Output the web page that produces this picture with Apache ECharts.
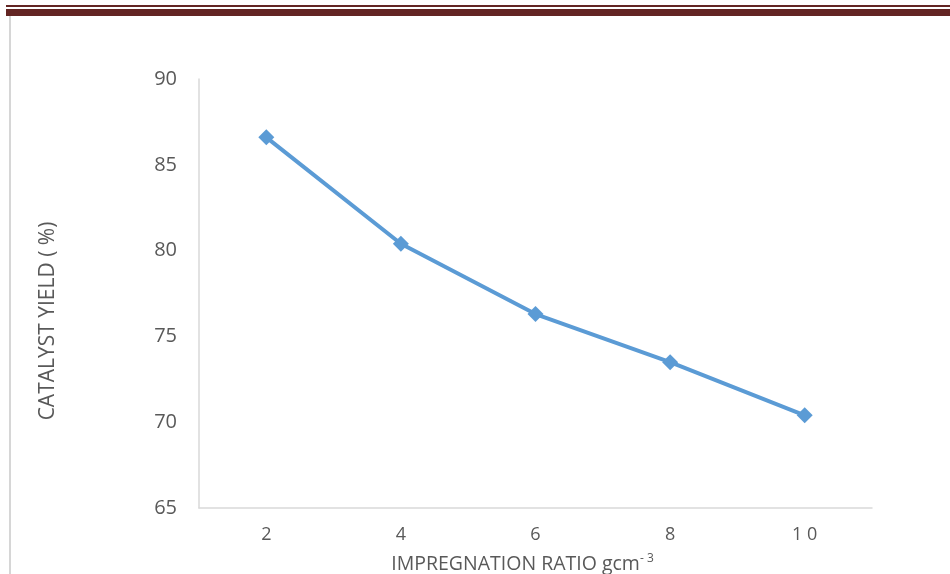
<!DOCTYPE html>
<html>
<head>
<meta charset="utf-8">
<script src="https://cdn.jsdelivr.net/npm/echarts@6/dist/echarts.min.js"></script>
<style>
html,body{margin:0;padding:0;background:#fff;}
#chart{width:950px;height:574px;}
</style>
</head>
<body>
<div id="chart"></div>
<script>
var categories = ['2', '4', '6', '8', '1 0'];
var yieldValues = [86.6, 80.4, 76.3, 73.5, 70.4];
var yTicks = [65, 70, 75, 80, 85, 90];

var chart = echarts.init(document.getElementById('chart'), null, {renderer: 'canvas'});
var font = '"Open Sans", "Noto Sans", sans-serif';
chart.setOption({
  animation: false,
  backgroundColor: '#ffffff',
  graphic: [
    {type: 'rect', shape: {x: 6, y: 5, width: 944, height: 2}, style: {fill: '#632523'}, silent: true},
    {type: 'rect', shape: {x: 6, y: 9, width: 944, height: 7}, style: {fill: '#632523'}, silent: true},
    {type: 'rect', shape: {x: 9, y: 16, width: 2, height: 558}, style: {fill: '#d6d6d6'}, silent: true}
  ],
  grid: {left: 199, right: 78, top: 79, bottom: 66, containLabel: false, outerBoundsMode: 'none'},
  xAxis: {
    type: 'category',
    data: categories,
    boundaryGap: true,
    axisLine: {show: true, lineStyle: {color: '#d9d9d9', width: 1.5}},
    axisTick: {show: false},
    splitLine: {show: false},
    axisLabel: {color: '#595959', fontSize: 18, fontFamily: font, margin: 18},
    name: 'IMPREGNATION RATIO gcm{sup|- 3}',
    nameLocation: 'middle',
    nameGap: 45,
    nameTextStyle: {
      color: '#595959', fontSize: 19.5, fontFamily: font, padding: [0, 26, 0, 0],
      rich: {sup: {fontSize: 12, verticalAlign: 'top', color: '#595959', fontFamily: font, padding: [0,0,10,0]}}
    }
  },
  yAxis: {
    type: 'value',
    min: yTicks[0],
    max: yTicks[yTicks.length - 1],
    interval: 5,
    axisLine: {show: true, lineStyle: {color: '#d9d9d9', width: 1.5}},
    axisTick: {show: false},
    splitLine: {show: false},
    axisLabel: {color: '#595959', fontSize: 20, fontFamily: font, margin: 22},
    name: 'CATALYST YIELD ( %)',
    nameLocation: 'middle',
    nameGap: 140,
    nameRotate: 90,
    nameTextStyle: {color: '#595959', fontSize: 21, fontFamily: font, padding: [0, 55, 0, 0]}
  },
  series: [{
    type: 'line',
    data: yieldValues,
    symbol: 'diamond',
    symbolSize: 16,
    lineStyle: {color: '#5b9bd5', width: 4},
    itemStyle: {color: '#5b9bd5'}
  }]
});
</script>
</body>
</html>
